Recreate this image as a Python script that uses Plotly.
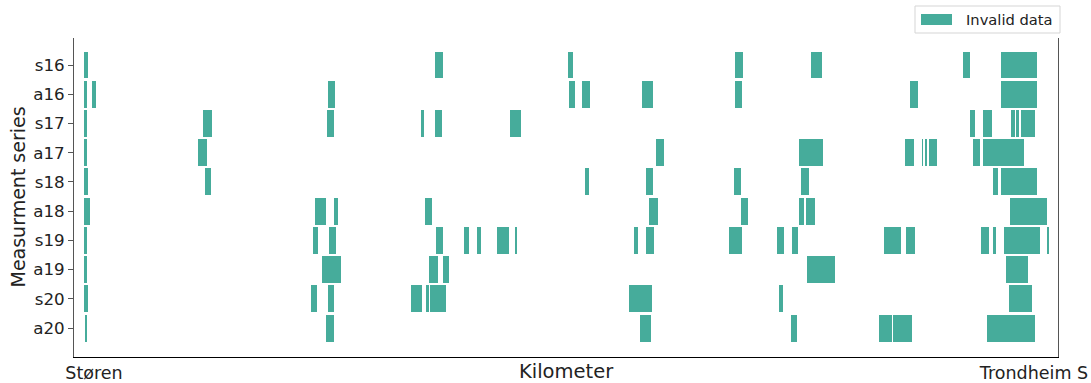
import plotly.graph_objects as go

# Series (top to bottom) and their invalid-data intervals (start, end) along the line
series = ["s16", "a16", "s17", "a17", "s18", "a18", "s19", "a19", "s20", "a20"]

s16 = [(10, 14), (361, 369), (494, 499), (661, 669), (737, 748), (889, 896), (927, 963)]
a16 = [(10, 13), (18, 22), (254, 261), (495, 501), (508, 516), (568, 579), (661, 668),
       (836, 844), (927, 963)]
s17 = [(10, 13), (129, 138), (253, 260), (347, 350), (361, 368), (436, 447), (896, 901),
       (909, 918), (937, 941), (942, 945), (947, 961)]
a17 = [(10, 13), (124, 133), (582, 590), (725, 749), (831, 840), (848, 849), (851, 853),
       (855, 863), (899, 906), (909, 950)]
s18 = [(10, 14), (131, 137), (511, 515), (572, 579), (660, 667), (727, 735), (919, 924),
       (927, 963)]
a18 = [(10, 16), (241, 252), (260, 264), (351, 358), (575, 584), (667, 674), (725, 730),
       (732, 741), (936, 973)]
s19 = [(10, 13), (239, 244), (255, 262), (362, 369), (390, 395), (403, 407), (423, 435),
       (441, 443), (560, 564), (572, 580), (655, 668), (703, 710), (718, 724), (810, 827),
       (832, 841), (907, 915), (919, 922), (930, 966), (973, 975)]
a19 = [(10, 13), (248, 267), (355, 364), (369, 375), (733, 761), (932, 954)]
s20 = [(10, 14), (237, 243), (254, 260), (337, 348), (352, 355), (356, 372), (555, 578),
       (705, 709), (935, 958)]
a20 = [(11, 13), (252, 260), (566, 577), (717, 723), (805, 818), (819, 838), (913, 961)]

intervals = [s16, a16, s17, a17, s18, a18, s19, a19, s20, a20]

x_tick_vals = [20, 960]
x_tick_text = ["Støren", "Trondheim S"]
x_range = [0, 984]
legend_label = "Invalid data"

COLOR = "#46AC9B"
n = len(series)
ypos = {name: n - 1 - i for i, name in enumerate(series)}

bx, bbase, by = [], [], []
for name, ivs in zip(series, intervals):
    for a, b in ivs:
        bbase.append(a)
        bx.append(b - a)
        by.append(ypos[name])

fig = go.Figure()
fig.add_trace(go.Bar(x=bx, base=bbase, y=by, orientation="h", width=0.92,
                     marker=dict(color=COLOR, line=dict(width=0)),
                     name=legend_label, showlegend=False, hoverinfo="skip"))

FONT = "DejaVu Sans"
L, T, W, H = 74, 38, 984, 319


def px(x):
    return (x - L) / W


def py(y):
    return (T + H - y) / H


fig.update_layout(
    width=1091, height=383,
    margin=dict(l=L, r=1091 - L - W, t=T, b=383 - T - H, autoexpand=False),
    paper_bgcolor="white", plot_bgcolor="white",
    font=dict(family=FONT, color="#222222"),
    bargap=0,
    showlegend=False,
    xaxis=dict(range=x_range, tickvals=x_tick_vals, ticktext=x_tick_text,
               showgrid=False, zeroline=False, showline=True, linecolor="black",
               linewidth=1.3, ticks="", tickfont=dict(size=17.5), fixedrange=True,
               automargin=False),
    yaxis=dict(range=[-0.99, n - 1 + 0.924], tickvals=list(range(n)),
               ticktext=[series[n - 1 - k] for k in range(n)],
               showgrid=False, zeroline=False, showline=True, linecolor="#555555",
               linewidth=1, mirror=True, ticks="outside", ticklen=5, tickcolor="#555555",
               tickfont=dict(size=16.7), automargin=False),
    shapes=[
        dict(type="rect", xref="paper", yref="paper", x0=px(915), x1=px(1060),
             y0=py(33), y1=py(6), line=dict(color="#d5d5d5", width=1),
             fillcolor="white", layer="above"),
        dict(type="rect", xref="paper", yref="paper", x0=px(921), x1=px(952),
             y0=py(25), y1=py(14), line=dict(width=0), fillcolor=COLOR, layer="above"),
    ],
    annotations=[
        dict(text=legend_label, x=px(964), y=py(19.5), xref="paper", yref="paper",
             xanchor="left", yanchor="middle", showarrow=False,
             font=dict(size=14.7, family=FONT, color="#222222")),
        dict(text="Kilometer", x=0.5, y=py(371), xref="paper", yref="paper",
             xanchor="center", yanchor="middle", showarrow=False,
             font=dict(size=19.5, family=FONT, color="#222222")),
        dict(text="Measurment series", x=px(17), y=0.5, xref="paper", yref="paper",
             xanchor="center", yanchor="middle", textangle=-90, showarrow=False,
             font=dict(size=19, family=FONT, color="#222222")),
    ],
)

fig.write_html("out.html")
